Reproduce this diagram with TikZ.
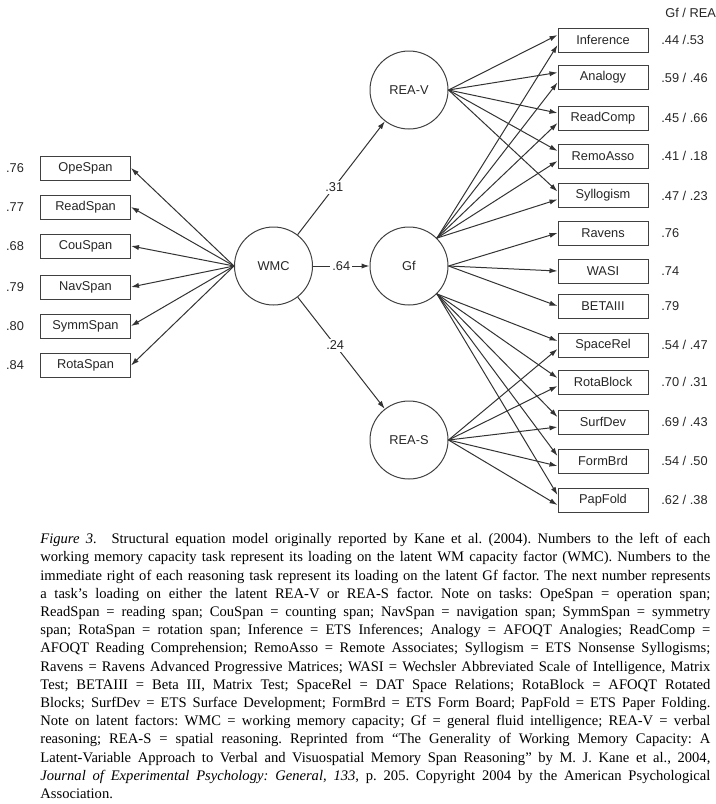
\documentclass[tikz,border=0pt]{standalone}
\usepackage{fontspec}
\setmainfont{Liberation Serif}
\newfontfamily\arialfont{Liberation Sans}
\usetikzlibrary{arrows.meta}

\begin{document}
\begin{tikzpicture}[x=0.5pt,y=-0.5pt,
    task/.style={draw=black!75,line width=0.5pt,minimum width=45pt,minimum height=12pt,inner sep=0pt,text=black!85,font=\arialfont\fontsize{6.4}{7}\selectfont},
    latent/.style={draw=black!75,line width=0.5pt,circle,minimum size=39pt,inner sep=0pt,text=black!85,font=\arialfont\fontsize{6.4}{7}\selectfont},
    load/.style={inner sep=0pt,text=black!85,font=\arialfont\fontsize{6.4}{7}\selectfont},
    coef/.style={fill=white,inner sep=1pt,text=black!85,font=\arialfont\fontsize{6.4}{7}\selectfont},
    arr/.style={draw=black!80,line width=0.5pt,-{Latex[length=4pt,width=2.6pt]}}]
    \useasboundingbox(0,0)rectangle(716,804);

    % latent factors
    \node[latent](WMC)at(273.5,266){WMC};
    \node[latent](REAV)at(409,90){REA-V};
    \node[latent](Gf)at(409,266){Gf};
    \node[latent](REAS)at(409,440){REA-S};

    % working memory tasks
    \node[task](OpeSpan)at(85.5,168){OpeSpan};
    \node[task](ReadSpan)at(85.5,207){ReadSpan};
    \node[task](CouSpan)at(85.5,246){CouSpan};
    \node[task](NavSpan)at(85.5,287){NavSpan};
    \node[task](SymmSpan)at(85.5,326){SymmSpan};
    \node[task](RotaSpan)at(85.5,365.5){RotaSpan};
    \node[load](lOpe)at(15,168){.76};
    \node[load](lRead)at(15,207){.77};
    \node[load](lCou)at(15,246){.68};
    \node[load](lNav)at(15,287){.79};
    \node[load](lSymm)at(15,326){.80};
    \node[load](lRota)at(15,365.5){.84};

    % reasoning tasks
    \node[task](Inference)at(603,40){Inference};
    \node[task](Analogy)at(603,77.5){Analogy};
    \node[task](ReadComp)at(603,118){ReadComp};
    \node[task](RemoAsso)at(603,156){RemoAsso};
    \node[task](Syllogism)at(603,195.5){Syllogism};
    \node[task](Ravens)at(603,233){Ravens};
    \node[task](WASI)at(603,271){WASI};
    \node[task](BETAIII)at(603,306){BETAIII};
    \node[task](SpaceRel)at(603,345){SpaceRel};
    \node[task](RotaBlock)at(603,382){RotaBlock};
    \node[task](SurfDev)at(603,422){SurfDev};
    \node[task](FormBrd)at(603,461){FormBrd};
    \node[task](PapFold)at(603,500){PapFold};

    \node[load,anchor=west](head)at(665,13){Gf / REA};
    \node[load,anchor=west](lInf)at(661,40){.44 /.53};
    \node[load,anchor=west](lAna)at(661,77.5){.59 / .46};
    \node[load,anchor=west](lRC)at(661,118){.45 / .66};
    \node[load,anchor=west](lRA)at(661,156){.41 / .18};
    \node[load,anchor=west](lSyl)at(661,195.5){.47 / .23};
    \node[load,anchor=west](lRav)at(661,233){.76};
    \node[load,anchor=west](lWASI)at(661,271){.74};
    \node[load,anchor=west](lBETA)at(661,306){.79};
    \node[load,anchor=west](lSR)at(661,345){.54 / .47};
    \node[load,anchor=west](lRB)at(661,382){.70 / .31};
    \node[load,anchor=west](lSD)at(661,422){.69 / .43};
    \node[load,anchor=west](lFB)at(661,461){.54 / .50};
    \node[load,anchor=west](lPF)at(661,500){.62 / .38};

    % structural paths
    \draw[arr](WMC)--node[coef,pos=0.42]{.31}(REAV);
    \draw[arr](WMC)--node[coef]{.64}(Gf);
    \draw[arr](WMC)--node[coef,pos=0.43]{.24}(REAS);

    % WMC loadings
    \draw[arr](WMC.west)--(OpeSpan.east);
    \draw[arr](WMC.west)--(ReadSpan.east);
    \draw[arr](WMC.west)--(CouSpan.east);
    \draw[arr](WMC.west)--(NavSpan.east);
    \draw[arr](WMC.west)--(SymmSpan.east);
    \draw[arr](WMC.west)--(RotaSpan.east);

    % REA-V loadings
    \draw[arr](REAV.east)--([yshift=2.5pt]Inference.west);
    \draw[arr](REAV.east)--([yshift=2.5pt]Analogy.west);
    \draw[arr](REAV.east)--([yshift=2.5pt]ReadComp.west);
    \draw[arr](REAV.east)--([yshift=2.5pt]RemoAsso.west);
    \draw[arr](REAV.east)--([yshift=2pt]Syllogism.west);

    % Gf loadings
    \draw[arr](Gf.north east)--([yshift=-2.5pt]Inference.west);
    \draw[arr](Gf.north east)--([yshift=-2.5pt]Analogy.west);
    \draw[arr](Gf.north east)--([yshift=-2.5pt]ReadComp.west);
    \draw[arr](Gf.north east)--([yshift=-2.5pt]RemoAsso.west);
    \draw[arr](Gf.north east)--([yshift=-2pt]Syllogism.west);
    \draw[arr](Gf.east)--(Ravens.west);
    \draw[arr](Gf.east)--(WASI.west);
    \draw[arr](Gf.east)--(BETAIII.west);
    \draw[arr](Gf.south east)--([yshift=2pt]SpaceRel.west);
    \draw[arr](Gf.south east)--([yshift=2pt]RotaBlock.west);
    \draw[arr](Gf.south east)--([yshift=2.5pt]SurfDev.west);
    \draw[arr](Gf.south east)--([yshift=2.5pt]FormBrd.west);
    \draw[arr](Gf.south east)--([yshift=2.5pt]PapFold.west);

    % REA-S loadings
    \draw[arr](REAS.east)--([yshift=-2pt]SpaceRel.west);
    \draw[arr](REAS.east)--([yshift=-2pt]RotaBlock.west);
    \draw[arr](REAS.east)--([yshift=-2.5pt]SurfDev.west);
    \draw[arr](REAS.east)--([yshift=-2.5pt]FormBrd.west);
    \draw[arr](REAS.east)--([yshift=-2.5pt]PapFold.west);

    % caption
    \node[anchor=north west,inner sep=0pt,text width=335pt,align=justify,
        font=\fontsize{7.3}{9.1}\selectfont](caption)at(40,533){%
        \frenchspacing\hyphenpenalty=10000\exhyphenpenalty=10000\tolerance=10000%
        \textit{Figure 3.}\quad Structural equation model originally reported by Kane et al. (2004). Numbers to the left of each\linebreak
        working memory capacity task represent its loading on the latent WM capacity factor (WMC). Numbers to the\linebreak
        immediate right of each reasoning task represent its loading on the latent Gf factor. The next number represents\linebreak
        a task's loading on either the latent REA-V or REA-S factor. Note on tasks: OpeSpan = operation span;\linebreak
        ReadSpan = reading span; CouSpan = counting span; NavSpan = navigation span; SymmSpan = symmetry\linebreak
        span; RotaSpan = rotation span; Inference = ETS Inferences; Analogy = AFOQT Analogies; ReadComp =\linebreak
        AFOQT Reading Comprehension; RemoAsso = Remote Associates; Syllogism = ETS Nonsense Syllogisms;\linebreak
        Ravens = Ravens Advanced Progressive Matrices; WASI = Wechsler Abbreviated Scale of Intelligence, Matrix\linebreak
        Test; BETAIII = Beta III, Matrix Test; SpaceRel = DAT Space Relations; RotaBlock = AFOQT Rotated\linebreak
        Blocks; SurfDev = ETS Surface Development; FormBrd = ETS Form Board; PapFold = ETS Paper Folding.\linebreak
        Note on latent factors: WMC = working memory capacity; Gf = general fluid intelligence; REA-V = verbal\linebreak
        reasoning; REA-S = spatial reasoning. Reprinted from ``The Generality of Working Memory Capacity: A\linebreak
        Latent-Variable Approach to Verbal and Visuospatial Memory Span Reasoning'' by M. J. Kane et al., 2004,\linebreak
        \textit{Journal of Experimental Psychology: General, 133}, p. 205. Copyright 2004 by the American Psychological\linebreak
        Association.};
\end{tikzpicture}
\end{document}
